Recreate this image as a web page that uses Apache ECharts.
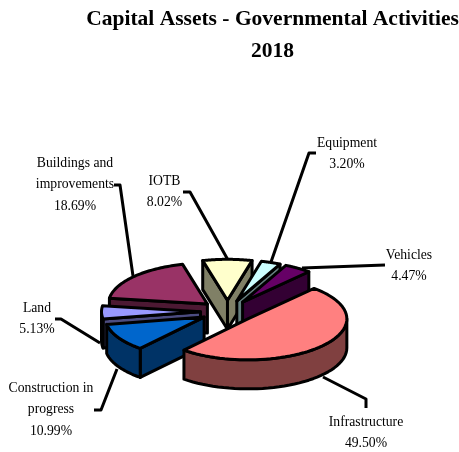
<!DOCTYPE html>
<html><head><meta charset="utf-8">
<style>html,body{margin:0;padding:0;background:#fff}#c{width:459px;height:452px}</style>
<script src="https://cdn.jsdelivr.net/npm/echarts@6/dist/echarts.min.js"></script>
</head><body><div id="c"></div>
<script>
const categories = ['Infrastructure','Construction in\nprogress','Land','Buildings and\nimprovements','IOTB','Equipment','Vehicles'];
const shares = [49.50,10.99,5.13,18.69,8.02,3.20,4.47];
const topColors = ['#FF8080','#0066CC','#9999FF','#993366','#FFFFCC','#CCFFFF','#660066'];
const sideColors = ['#804040','#003366','#4C4C80','#4C1933','#808066','#668080','#330033'];
const labelCenters = [[366,422],[51,388],[37,308],[75,163],[164.5,181],[347,143],[409,255]];
const leaders = [
  [[323,377],[366,399],[366,408]],
  [[94,410],[101,410],[117,369]],
  [[55,319],[61,319],[100,343]],
  [[114,185],[120,185],[133,276]],
  [[183,192],[190,192],[228,260]],
  [[316,153],[309,153],[271,262]],
  [[385,265],[302,268]]
];
const PIE = {cx:227.5, cy:311.5, rx:99, ry:41, depth:29, explode:27, startDeg:312, lw:3};

const rad = d => d*Math.PI/180;
const total = shares.reduce((a,b)=>a+b,0);
let acc = PIE.startDeg;
const slices = shares.map(v=>{const a=acc, b=acc+v/total*360; acc=b; return {a,b,mid:(a+b)/2};});
const order = slices.map((s,i)=>[Math.sin(rad(s.mid)),i]).sort((p,q)=>p[0]-q[0]).map(p=>p[1]);

function renderItem(params, api){
  const i = params.dataIndex, s = slices[i], z = order.indexOf(i)*10+1;
  const ox = PIE.cx + PIE.explode*Math.cos(rad(s.mid));
  const oy = PIE.cy + PIE.explode*(PIE.ry/PIE.rx)*Math.sin(rad(s.mid));
  const pt = (d,h)=>[ox+PIE.rx*Math.cos(rad(d)), oy+PIE.ry*Math.sin(rad(d))+(h||0)];
  const style = c=>({fill:c, stroke:'#000', lineWidth:PIE.lw, lineJoin:'round'});
  const kids = [];
  const poly = (points,c,zz)=>kids.push({type:'polygon',shape:{points},style:style(c),z2:z+zz});
  const cut = d=>poly([[ox,oy],pt(d),pt(d,PIE.depth),[ox,oy+PIE.depth]],sideColors[i],0);
  if(Math.cos(rad(s.a))<0) cut(s.a);
  if(Math.cos(rad(s.b))>0) cut(s.b);
  for(const k of [0,360]){
    const w0=Math.max(s.a,k), w1=Math.min(s.b,k+180);
    if(w1>w0){
      const up=[],dn=[];
      for(let j=0;j<=40;j++){const d=w0+(w1-w0)*j/40; up.push(pt(d)); dn.unshift(pt(d,PIE.depth));}
      poly(up.concat(dn),sideColors[i],1);
    }
  }
  const face=[[ox,oy]];
  for(let j=0;j<=60;j++) face.push(pt(s.a+(s.b-s.a)*j/60));
  poly(face,topColors[i],2);
  return {type:'group',children:kids};
}

const textEls = [], lineEls = [];
categories.forEach((name,i)=>{
  const lines = name.split('\n').concat(shares[i].toFixed(2)+'%');
  lines.forEach((t,j)=>textEls.push({type:'text',x:labelCenters[i][0],y:labelCenters[i][1]+j*21.6,z:20,
    style:{text:t,fill:'#000',font:'13.7px "Liberation Serif"',align:'center',verticalAlign:'middle'}}));
  lineEls.push({type:'polyline',shape:{points:leaders[i]},z:0,
    style:{stroke:'#000',lineWidth:PIE.lw,fill:null,lineJoin:'round'}});
});
const titleEls = ['Capital Assets - Governmental Activities','2018'].map((t,j)=>({
  type:'text',x:272.5,y:19+j*32,z:20,
  style:{text:t,fill:'#000',font:'bold 21.5px "Liberation Serif"',align:'center',verticalAlign:'middle'}}));

const chart = echarts.init(document.getElementById('c'),null,{renderer:'canvas'});
chart.setOption({
  animation:false, backgroundColor:'#fff',
  graphic:{elements:titleEls.concat(textEls,lineEls)},
  series:[{type:'custom',coordinateSystem:'none',renderItem,z:5,silent:true,
    data:shares.map((v,i)=>({name:categories[i],value:v}))}]
});
</script></body></html>
